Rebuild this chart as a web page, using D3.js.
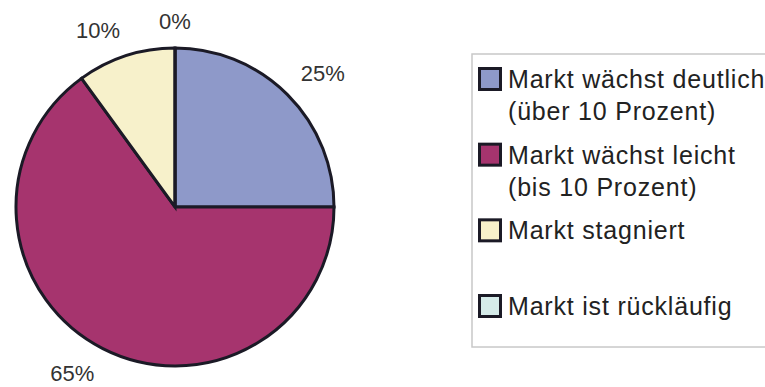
<!DOCTYPE html>
<html>
<head>
<meta charset="utf-8">
<script src="https://cdn.jsdelivr.net/npm/d3@7"></script>
<style>
  html, body { margin: 0; padding: 0; background: #fff; }
  svg { display: block; font-family: "Liberation Sans", Arial, sans-serif; }
</style>
</head>
<body>
<svg id="chart" width="765" height="387"></svg>
<script>
// Market outlook shares (percent)
const categories = [
  ["Markt wächst deutlich", "(über 10 Prozent)"],
  ["Markt wächst leicht", "(bis 10 Prozent)"],
  ["Markt stagniert"],
  ["Markt ist rückläufig"]
];
const values = [25, 65, 10, 0];
const colors = ["#8e99c9", "#a6346e", "#f7f1cb", "#d5ebe9"];

const svg = d3.select("#chart");
const W = 765, H = 387;

// ---- pie ----
const cx = 175, cy = 207, r = 159;
const pie = d3.pie().sort(null).value(d => d)(values);
const arc = d3.arc().innerRadius(0).outerRadius(r);

const g = svg.append("g").attr("transform", `translate(${cx},${cy})`);
g.selectAll("path.slice")
  .data(pie)
  .join("path")
  .attr("class", "slice")
  .attr("d", arc)
  .attr("fill", (d, i) => colors[i])
  .attr("stroke", "#1b1a26")
  .attr("stroke-width", 3)
  .attr("stroke-linejoin", "miter");

// ---- percentage labels at the outside end of each slice ----
// The label box is pushed outward from an anchor point on the mid-angle
// so that its nearest edge/corner touches the anchor.
const labelFont = 22;
const labelR = r + 19;
const clamp = v => Math.max(-1, Math.min(1, v));
const lbl = g.selectAll("text.pct")
  .data(pie)
  .join("text")
  .attr("class", "pct")
  .attr("font-size", labelFont)
  .attr("fill", "#333")
  .attr("text-anchor", "middle")
  .text(d => d.value + "%");

lbl.each(function(d) {
  const box = this.getBBox();
  const a = (d.startAngle + d.endAngle) / 2;
  const s = Math.sin(a), c = -Math.cos(a);
  const capH = labelFont * 0.72;
  const ax = s * labelR, ay = c * labelR;
  const x = ax + clamp(s / 0.3) * box.width / 2;
  const y = ay + clamp(c / 0.3) * capH / 2;
  d3.select(this).attr("x", x).attr("y", y + capH / 2);
});

// ---- legend ----
const legX = 472, legY = 54, legBottom = 347;
svg.append("rect")
  .attr("x", legX).attr("y", legY)
  .attr("width", W - legX + 10).attr("height", legBottom - legY)
  .attr("fill", "#fff")
  .attr("stroke", "#c8c8c8")
  .attr("stroke-width", 1.5);

const rowY = d3.scalePoint()
  .domain(d3.range(categories.length))
  .range([79, 306]);

const sq = 21, fontSize = 25, lineGap = 32;
const items = svg.selectAll("g.item")
  .data(categories)
  .join("g")
  .attr("class", "item")
  .attr("transform", (d, i) => `translate(0,${rowY(i)})`);

items.append("rect")
  .attr("x", 479.5).attr("y", -sq / 2)
  .attr("width", sq).attr("height", sq)
  .attr("fill", (d, i) => colors[i])
  .attr("stroke", "#1b1a26")
  .attr("stroke-width", 3);

items.each(function(lines) {
  const t = d3.select(this).append("text")
    .attr("font-size", fontSize)
    .attr("fill", "#222")
    .attr("letter-spacing", 0.8);
  lines.forEach((ln, j) => {
    t.append("tspan")
      .attr("x", 508)
      .attr("y", fontSize * 0.36 + j * lineGap)
      .text(ln);
  });
});
</script>
</body>
</html>
